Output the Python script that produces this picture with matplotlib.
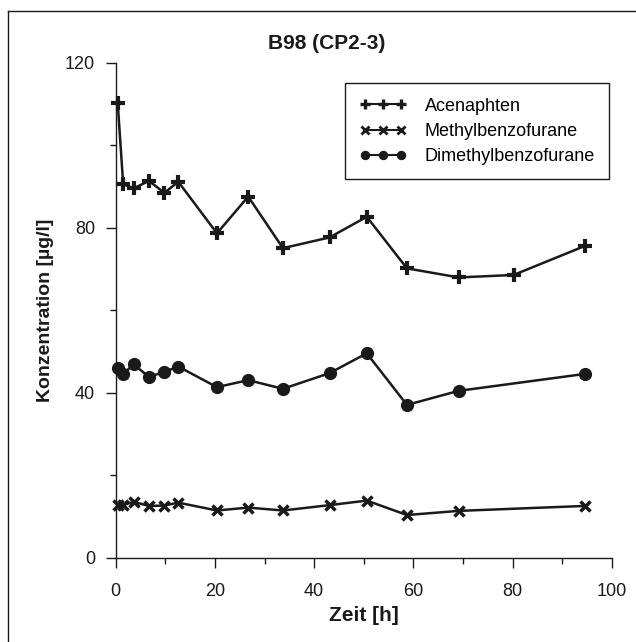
import numpy as np
import matplotlib.pyplot as plt
from matplotlib.lines import Line2D

plt.rcParams['font.family'] = ['Liberation Sans', 'DejaVu Sans']

# Zeit [h]
zeit_ace = [0.4, 1.5, 3.6, 6.7, 9.8, 12.6, 20.4, 26.7, 33.7, 43.1, 50.6, 58.7, 69.1, 80.2, 94.5]
acenaphten = [110.1, 90.5, 89.5, 91.3, 88.4, 91.1, 78.6, 87.5, 75.0, 77.6, 82.6, 70.1, 67.9, 68.5, 75.5]

zeit = [0.4, 1.5, 3.6, 6.7, 9.8, 12.6, 20.4, 26.7, 33.7, 43.1, 50.6, 58.7, 69.1, 94.5]
methylbenzofurane = [12.7, 12.7, 13.5, 12.5, 12.6, 13.3, 11.4, 12.1, 11.4, 12.7, 13.8, 10.3, 11.3, 12.5]
dimethylbenzofurane = [45.9, 44.5, 46.8, 43.8, 45.0, 46.3, 41.3, 43.0, 40.9, 44.7, 49.5, 37.0, 40.4, 44.5]

fig = plt.figure(figsize=(6.36, 6.42), dpi=100)
ax = fig.add_axes([0.182, 0.1316, 0.780, 0.771])

lc = "#1a1a1a"
ax.plot(zeit_ace, acenaphten, color=lc, lw=1.8, marker="+", ms=10.5, mew=3,
        label="Acenaphten", clip_on=False)
ax.plot(zeit, methylbenzofurane, color=lc, lw=1.8, marker="x", ms=7.5, mew=2.5,
        label="Methylbenzofurane", clip_on=False)
ax.plot(zeit, dimethylbenzofurane, color=lc, lw=1.8, marker="o", ms=8.5,
        label="Dimethylbenzofurane", clip_on=False)

ax.set_xlim(0, 100)
ax.set_ylim(0, 120)
ax.set_xticks(np.arange(0, 101, 20))
ax.set_xticks(np.arange(10, 100, 20), minor=True)
ax.set_yticks([0, 40, 80, 120])
ax.set_yticks([20, 60, 100], minor=True)

for s in ["top", "right"]:
    ax.spines[s].set_visible(False)
for s in ["left", "bottom"]:
    ax.spines[s].set_linewidth(1.0)
    ax.spines[s].set_color(lc)

ax.tick_params(which="major", direction="out", length=7, width=1.0, color=lc,
               labelsize=13, pad=8, labelcolor=lc)
ax.tick_params(axis="x", which="major", pad=11)
ax.tick_params(which="minor", direction="out", length=4, width=1.0, color=lc)

ax.set_xlabel("Zeit [h]", fontsize=15, fontweight="bold", color=lc, labelpad=5)
ax.set_ylabel("Konzentration [µg/l]", fontsize=14, fontweight="bold", color=lc, labelpad=8)
fig.text(0.514, 0.933, "B98 (CP2-3)", fontsize=15, fontweight="bold", color=lc,
         ha="center", va="center")

leg = ax.legend(loc="upper right", bbox_to_anchor=(0.995, 0.958), numpoints=3,
                handlelength=2.6, fontsize=13, fancybox=False, framealpha=1,
                edgecolor=lc, borderpad=0.8, labelspacing=0.45, handletextpad=1.0,
                borderaxespad=0)
leg.get_frame().set_linewidth(1.0)
for h in leg.legend_handles:
    h.set_markersize(h.get_markersize() * 0.7)
    h.set_markeredgewidth(h.get_markeredgewidth() * 0.8)
    h.set_linewidth(1.5)

# figure border (left and top edges visible)
fig.add_artist(Line2D([0.0126, 0.0126], [0.0, 0.983], transform=fig.transFigure, color=lc, lw=1.0))
fig.add_artist(Line2D([0.0126, 1.0], [0.983, 0.983], transform=fig.transFigure, color=lc, lw=1.0))

fig.savefig("out.png", dpi=100)
